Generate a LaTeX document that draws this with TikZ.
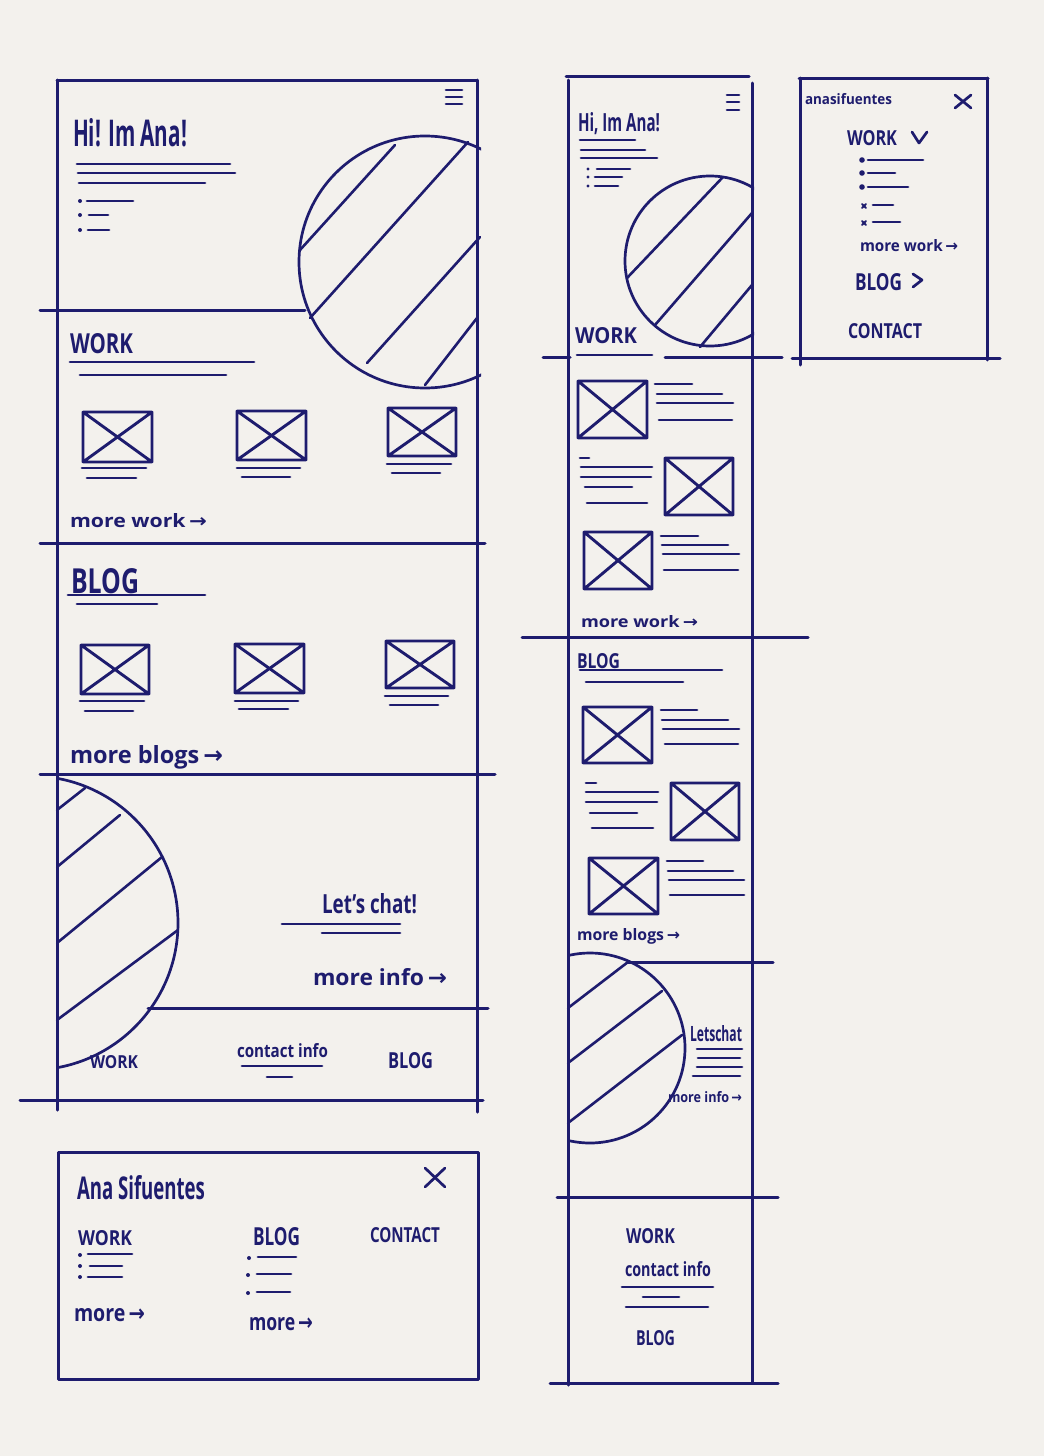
\documentclass[tikz,border=0pt]{standalone}
\usepackage{fontspec}
\usepackage{graphicx}
\setmainfont{Open Sans}
\newfontfamily\arrowfont{DejaVu Sans}
\definecolor{ink}{HTML}{1E1C6E}
\definecolor{paper}{HTML}{F3F1ED}
\newcommand\handtxt[3]{\resizebox{#1pt}{#2pt}{#3}}
\newcommand\rarr{{\arrowfont\,→}}
\newcommand\imgbox[4]{\draw[boxln] (#1,#2) rectangle (#3,#4) (#1,#2) -- (#3,#4) (#1,#4) -- (#3,#2);}
\begin{document}
\begin{tikzpicture}[x=1pt,y=-1pt,line cap=round,line join=round,
  frameln/.style={ink,line width=3pt},
  boxln/.style={ink,line width=2.9pt},
  ln/.style={ink,line width=2.7pt},
  hatch/.style={ink,line width=2.6pt},
  txt/.style={anchor=base west,inner sep=0pt,outer sep=0pt,text=ink,font=\bfseries},
  txtb/.style={txt}]
\useasboundingbox (0,0) rectangle (1044,1456);
\fill[paper] (0,0) rectangle (1044,1456);

% ================= DESKTOP PAGE =================
\draw[frameln] (57,80) -- (477,80);
\draw[frameln] (57,80) -- (57,1110);
\draw[frameln] (477,80) -- (477,1112);
\draw[frameln] (40,310) -- (305,310);
\draw[frameln] (40,543) -- (485,543);
\draw[frameln] (40,774) -- (495,774);
\draw[frameln] (148,1008) -- (488,1008);
\draw[frameln] (20,1100) -- (483,1100);
% hamburger
\draw[ln] (446,90) -- (462,90) (446,97) -- (462,97) (446,104) -- (462,104);
% hero
\node[txt] (dhi) at (73,146) {\handtxt{114}{28}{Hi! Im Ana!}};
\draw[ln] (77,164) -- (230,164) (78,173) -- (235,173) (79,183) -- (205,183);
\fill[ink] (80,201) circle[radius=2] (80,215) circle[radius=2] (80,230) circle[radius=2];
\draw[ln] (87,201) -- (133,201) (89,215) -- (108,215) (88,230) -- (109,230);
\begin{scope}
  \clip (290,120) rectangle (481,400);
  \draw[ln] (425,262) circle[radius=126];
\end{scope}
\draw[hatch] (300,250) -- (395,145);
\draw[hatch] (310,318) -- (468,142);
\draw[hatch] (480,237) -- (367,363);
\draw[hatch] (477,318) -- (425,385);
% work section
\node[txt] (dwork) at (70,353) {\handtxt{63}{20}{WORK}};
\draw[ln] (70,362) -- (254,362) (80,375) -- (226,375);
\imgbox{83}{412}{152}{462}
\draw[ln] (82,468) -- (146,468) (87,478) -- (136,478);
\imgbox{237}{411}{306}{460}
\draw[ln] (237,468) -- (300,468) (242,477) -- (290,477);
\imgbox{388}{408}{456}{456}
\draw[ln] (387,464) -- (451,464) (392,473) -- (440,473);
\node[txtb] (dmorework) at (70,527) {\handtxt{137}{14}{more work\rarr}};
% blog section
\node[txt] (dblog) at (71,593) {\handtxt{68}{25}{BLOG}};
\draw[ln] (68,595) -- (205,595) (77,604) -- (157,604);
\imgbox{81}{645}{149}{694}
\draw[ln] (80,701) -- (144,701) (85,711) -- (133,711);
\imgbox{235}{644}{304}{693}
\draw[ln] (235,701) -- (298,701) (239,709) -- (288,709);
\imgbox{386}{641}{454}{688}
\draw[ln] (385,696) -- (448,696) (390,705) -- (438,705);
\node[txt] (dmoreblogs) at (70,763) {\handtxt{153}{18}{more blogs\rarr}};
% contact section
\begin{scope}
  \clip (57,770) rectangle (210,1090);
  \draw[ln] (31,923) circle[radius=147];
\end{scope}
\draw[hatch] (57,810) -- (85,788);
\draw[hatch] (57,867) -- (120,815);
\draw[hatch] (57,943) -- (162,857);
\draw[hatch] (57,1020) -- (178,930);
\node[txt] (dchat) at (322,913) {\handtxt{95}{20}{Let's chat!}};
\draw[ln] (282,924) -- (400,924) (322,933) -- (400,933);
\node[txt] (dmoreinfo) at (313,985) {\handtxt{134}{17}{more info\rarr}};
% footer
\node[txtb] (dfwork) at (90,1068) {\handtxt{48}{13}{WORK}};
\node[txtb] (dfcontact) at (237,1057) {\handtxt{91}{14}{contact info}};
\draw[ln] (242,1066) -- (322,1066) (267,1077) -- (292,1077);
\node[txt] (dfblog) at (388,1068) {\handtxt{45}{16}{BLOG}};

% ================= DESKTOP MENU =================
\draw[frameln] (58,1152) rectangle (478,1379);
\node[txt] (mname) at (77,1199) {\handtxt{128}{24}{Ana Sifuentes}};
\draw[ln] (425,1168) -- (445,1187) (445,1168) -- (425,1187);
\node[txtb] (mwork) at (78,1245) {\handtxt{54}{15}{WORK}};
\node[txt] (mblog) at (253,1245) {\handtxt{47}{18}{BLOG}};
\node[txtb] (mcontact) at (370,1242) {\handtxt{70}{15}{CONTACT}};
\fill[ink] (80,1255) circle[radius=2] (80,1266) circle[radius=2] (80,1277) circle[radius=2];
\draw[ln] (88,1254) -- (132,1254) (90,1266) -- (122,1266) (88,1277) -- (122,1277);
\node[txtb] (mmore1) at (74,1321) {\handtxt{71}{13}{more\rarr}};
\fill[ink] (249,1258) circle[radius=2] (248,1275) circle[radius=2] (248,1293) circle[radius=2];
\draw[ln] (258,1257) -- (296,1257) (257,1274) -- (291,1274) (257,1292) -- (290,1292);
\node[txtb] (mmore2) at (249,1330) {\handtxt{64}{13}{more\rarr}};

% ================= MOBILE PAGE =================
\draw[frameln] (566,76) -- (749,76);
\draw[frameln] (568,80) -- (568,1385);
\draw[frameln] (752,83) -- (752,1382);
\draw[frameln] (543,357) -- (570,357) (665,357) -- (782,357);
\draw[frameln] (522,637) -- (808,637);
\draw[frameln] (628,962) -- (773,962);
\draw[frameln] (557,1197) -- (778,1197);
\draw[frameln] (550,1383) -- (778,1383);
% hamburger
\draw[ln] (727,95) -- (739,95) (727,102) -- (739,102) (727,110) -- (739,110);
% hero
\node[txtb] (phi) at (578,131) {\handtxt{82}{19}{Hi, Im Ana!}};
\draw[ln] (580,140) -- (635,140) (581,150) -- (645,150) (581,158) -- (657,158);
\fill[ink] (588,169) circle[radius=1.6] (588,177) circle[radius=1.6] (588,186) circle[radius=1.6];
\draw[ln] (597,169) -- (630,169) (595,177) -- (622,177) (595,186) -- (618,186);
\begin{scope}
  \clip (600,160) rectangle (754,360);
  \draw[ln] (710,261) circle[radius=85];
\end{scope}
\draw[hatch] (627,278) -- (723,177);
\draw[hatch] (655,325) -- (752,213);
\draw[hatch] (700,347) -- (752,285);
% work
\node[txtb] (pwork) at (575,343) {\handtxt{62}{16}{WORK}};
\draw[ln] (577,355) -- (652,355);
\imgbox{578}{381}{647}{438}
\draw[ln] (655,384) -- (692,384) (657,394) -- (722,394) (657,403) -- (733,403) (659,420) -- (732,420);
\draw[ln] (580,458) -- (589,458) (581,467) -- (652,467) (581,477) -- (651,477) (585,487) -- (632,487) (587,503) -- (647,503);
\imgbox{665}{458}{733}{515}
\imgbox{584}{532}{652}{589}
\draw[ln] (661,536) -- (698,536) (662,545) -- (728,545) (663,554) -- (739,554) (664,570) -- (738,570);
\node[txtb] (pmorework) at (581,627) {\handtxt{117}{12}{more work\rarr}};
% blog
\node[txtb] (pblog) at (577,668) {\handtxt{43}{15}{BLOG}};
\draw[ln] (580,670) -- (722,670) (586,682) -- (683,682);
\imgbox{583}{707}{652}{763}
\draw[ln] (661,710) -- (697,710) (662,720) -- (728,720) (663,729) -- (739,729) (665,744) -- (738,744);
\draw[ln] (586,783) -- (596,783) (586,792) -- (658,792) (586,802) -- (657,802) (590,813) -- (637,813) (592,828) -- (653,828);
\imgbox{671}{783}{739}{840}
\imgbox{589}{858}{658}{914}
\draw[ln] (667,861) -- (703,861) (668,871) -- (733,871) (669,880) -- (744,880) (670,895) -- (744,895);
\node[txtb] (pmoreblogs) at (577,940) {\handtxt{103}{12}{more blogs\rarr}};
% contact
\begin{scope}
  \clip (568,940) rectangle (700,1160);
  \draw[ln] (590,1048) circle[radius=95];
\end{scope}
\draw[hatch] (568,1008) -- (628,962);
\draw[hatch] (568,1063) -- (662,991);
\draw[hatch] (568,1123) -- (682,1035);
\node[txtb] (pchat) at (690,1041) {\handtxt{52}{16}{Letschat}};
\draw[ln] (697,1049) -- (742,1049) (698,1058) -- (740,1058) (697,1067) -- (742,1067) (693,1076) -- (740,1076);
\node[txtb] (pmoreinfo) at (668,1102) {\handtxt{74}{11}{more info\rarr}};
% footer
\node[txtb] (pfwork) at (626,1243) {\handtxt{49}{15}{WORK}};
\node[txtb] (pfcontact) at (625,1276) {\handtxt{86}{15}{contact info}};
\draw[ln] (622,1287) -- (713,1287) (643,1297) -- (679,1297) (626,1307) -- (708,1307);
\node[txtb] (pfblog) at (636,1345) {\handtxt{39}{15}{BLOG}};

% ================= MOBILE MENU =================
\draw[frameln] (799,78) -- (988,78);
\draw[frameln] (800,78) -- (800,365);
\draw[frameln] (987,78) -- (987,360);
\draw[frameln] (792,358) -- (1000,358);
\node[txtb] (nname) at (805,104) {\handtxt{87}{11}{anasifuentes}};
\draw[ln] (955,95) -- (971,108) (971,95) -- (955,108);
\node[txtb] (nwork) at (847,145) {\handtxt{50}{15}{WORK}};
\draw[ln] (912,132) -- (919,143) -- (927,132);
\fill[ink] (862,160) circle[radius=2.8] (862,173) circle[radius=2.8] (862,187) circle[radius=2.8];
\draw[ln] (868,160) -- (923,160) (868,173) -- (895,173) (868,187) -- (908,187);
\draw[ink,line width=1.8pt] (862,204) -- (866,208) (866,204) -- (862,208) (862,221) -- (866,225) (866,221) -- (862,225);
\draw[ln] (873,205) -- (893,205) (873,222) -- (900,222);
\node[txtb] (nmorework) at (860,251) {\handtxt{98}{12}{more work\rarr}};
\node[txtb] (nblog) at (855,290) {\handtxt{47}{17}{BLOG}};
\draw[ln] (913,274) -- (922,280) -- (913,287);
\node[txtb] (ncontact) at (848,338) {\handtxt{74}{15}{CONTACT}};
\end{tikzpicture}
\end{document}
